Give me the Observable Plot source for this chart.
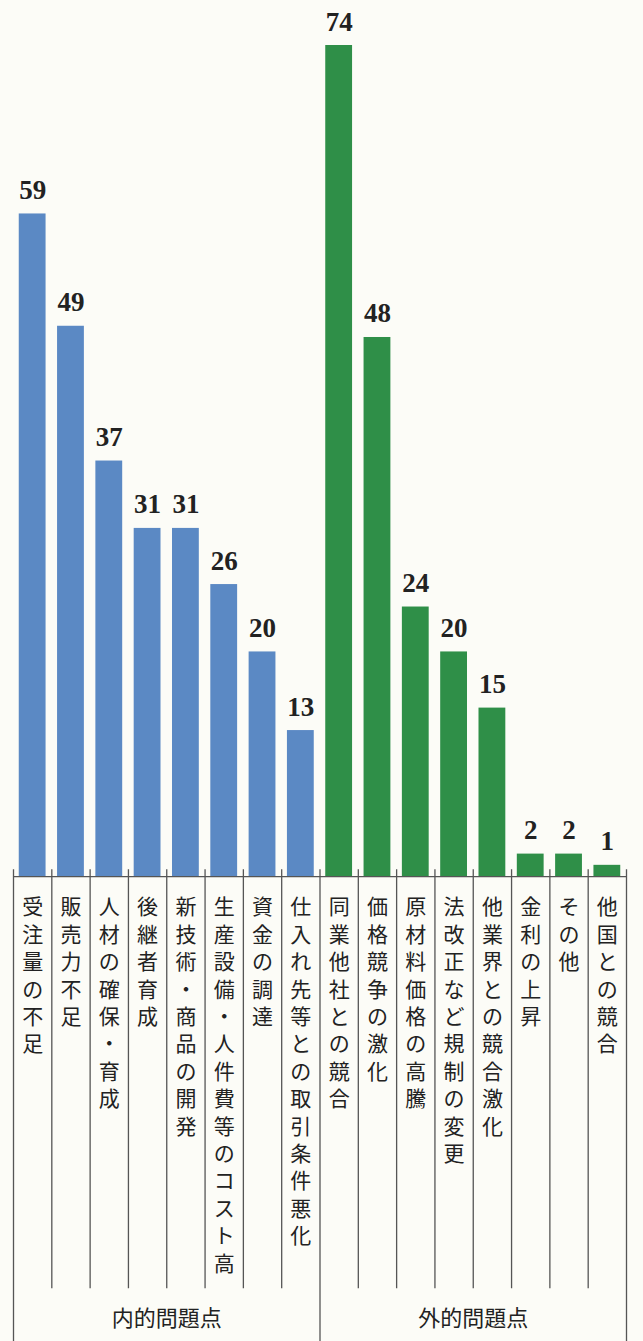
<!DOCTYPE html>
<html><head><meta charset="utf-8">
<script src="https://cdn.jsdelivr.net/npm/d3@7"></script>
<script src="https://cdn.jsdelivr.net/npm/@observablehq/plot@0.6"></script>
<style>
html,body{margin:0;padding:0;background:#fcfcf7;}
#chart svg{display:block;}
</style>
</head><body><div id="chart"></div>
<script>
const categories = ["受注量の不足","販売力不足","人材の確保・育成","後継者育成","新技術・商品の開発","生産設備・人件費等のコスト高","資金の調達","仕入れ先等との取引条件悪化","同業他社との競合","価格競争の激化","原材料価格の高騰","法改正など規制の変更","他業界との競合激化","金利の上昇","その他","他国との競合"];
const values = [59,49,37,31,31,26,20,13,74,48,24,20,15,2,2,1];
const groups = ["内的問題点","内的問題点","内的問題点","内的問題点","内的問題点","内的問題点","内的問題点","内的問題点","外的問題点","外的問題点","外的問題点","外的問題点","外的問題点","外的問題点","外的問題点","外的問題点"];
const groupNames = ["内的問題点","外的問題点"];
const colors = {"内的問題点":"#5b89c4","外的問題点":"#2f8f48"};

const data = categories.map((c,i)=>({i, category:c, chars: Array.from(c), value:values[i], group:groups[i]}));
const n = categories.length;
const groupSpans = groupNames.map(g=>{
  const idx = data.filter(d=>d.group===g).map(d=>d.i);
  return {group:g, start:d3.min(idx), end:d3.max(idx)+1};
});
const boundaries = d3.range(n+1).map(k=>({k, outer: k===0 || k===n || groupSpans.some(s=>s.start===k)}));

// layout (in y-scale units)
const yBottom = -41.4, innerEnd = -36.7, tickTop = 0.6, groupLabelY = -39.4;
const pad = 0.15;
const sans = "'Noto Sans CJK JP', 'Noto Sans', sans-serif";
const charTop = 23, charStep = 27.4;
const maxLen = d3.max(data, d=>d.chars.length);

const charMarks = d3.range(maxLen).map(j =>
  Plot.text(data.filter(d=>d.chars.length>j), {x: d=>d.i+0.5, y: 0, text: d=>d.chars[j],
    lineAnchor: "top", dy: charTop + j*charStep, fontSize: 21, fontFamily: sans, fill: "#222"})
);

const chart = Plot.plot({
  width: 643, height: 1341,
  marginTop: 0, marginBottom: 0, marginLeft: 0, marginRight: 0,
  style: {background: "transparent"},
  x: {domain: [0, n], range: [13, 626], axis: null},
  y: {domain: [yBottom, 74], range: [1341, 45], axis: null},
  marks: [
    Plot.rectY(data, {x1: d=>d.i+pad, x2: d=>d.i+1-pad, y1: 0, y2: "value", fill: d=>colors[d.group]}),
    Plot.text(data, {x: d=>d.i+0.5, y: "value", text: d=>String(d.value), lineAnchor: "bottom", dy: -15,
      fontFamily: "'Liberation Serif', serif", fontWeight: "bold", fontSize: 27, fill: "#222"}),
    Plot.ruleY([0], {x1: 0, x2: n, stroke: "#555", strokeWidth: 1.3}),
    Plot.ruleX(boundaries, {x: "k", y1: tickTop, y2: d=>d.outer ? yBottom : innerEnd, stroke: "#555", strokeWidth: 1.3}),
    ...charMarks,
    Plot.text(groupSpans, {x: d=>(d.start+d.end)/2, y: groupLabelY, text: "group",
      fontSize: 22, fontFamily: sans, fill: "#222"})
  ]
});
document.getElementById("chart").appendChild(chart);
</script>
</body></html>
